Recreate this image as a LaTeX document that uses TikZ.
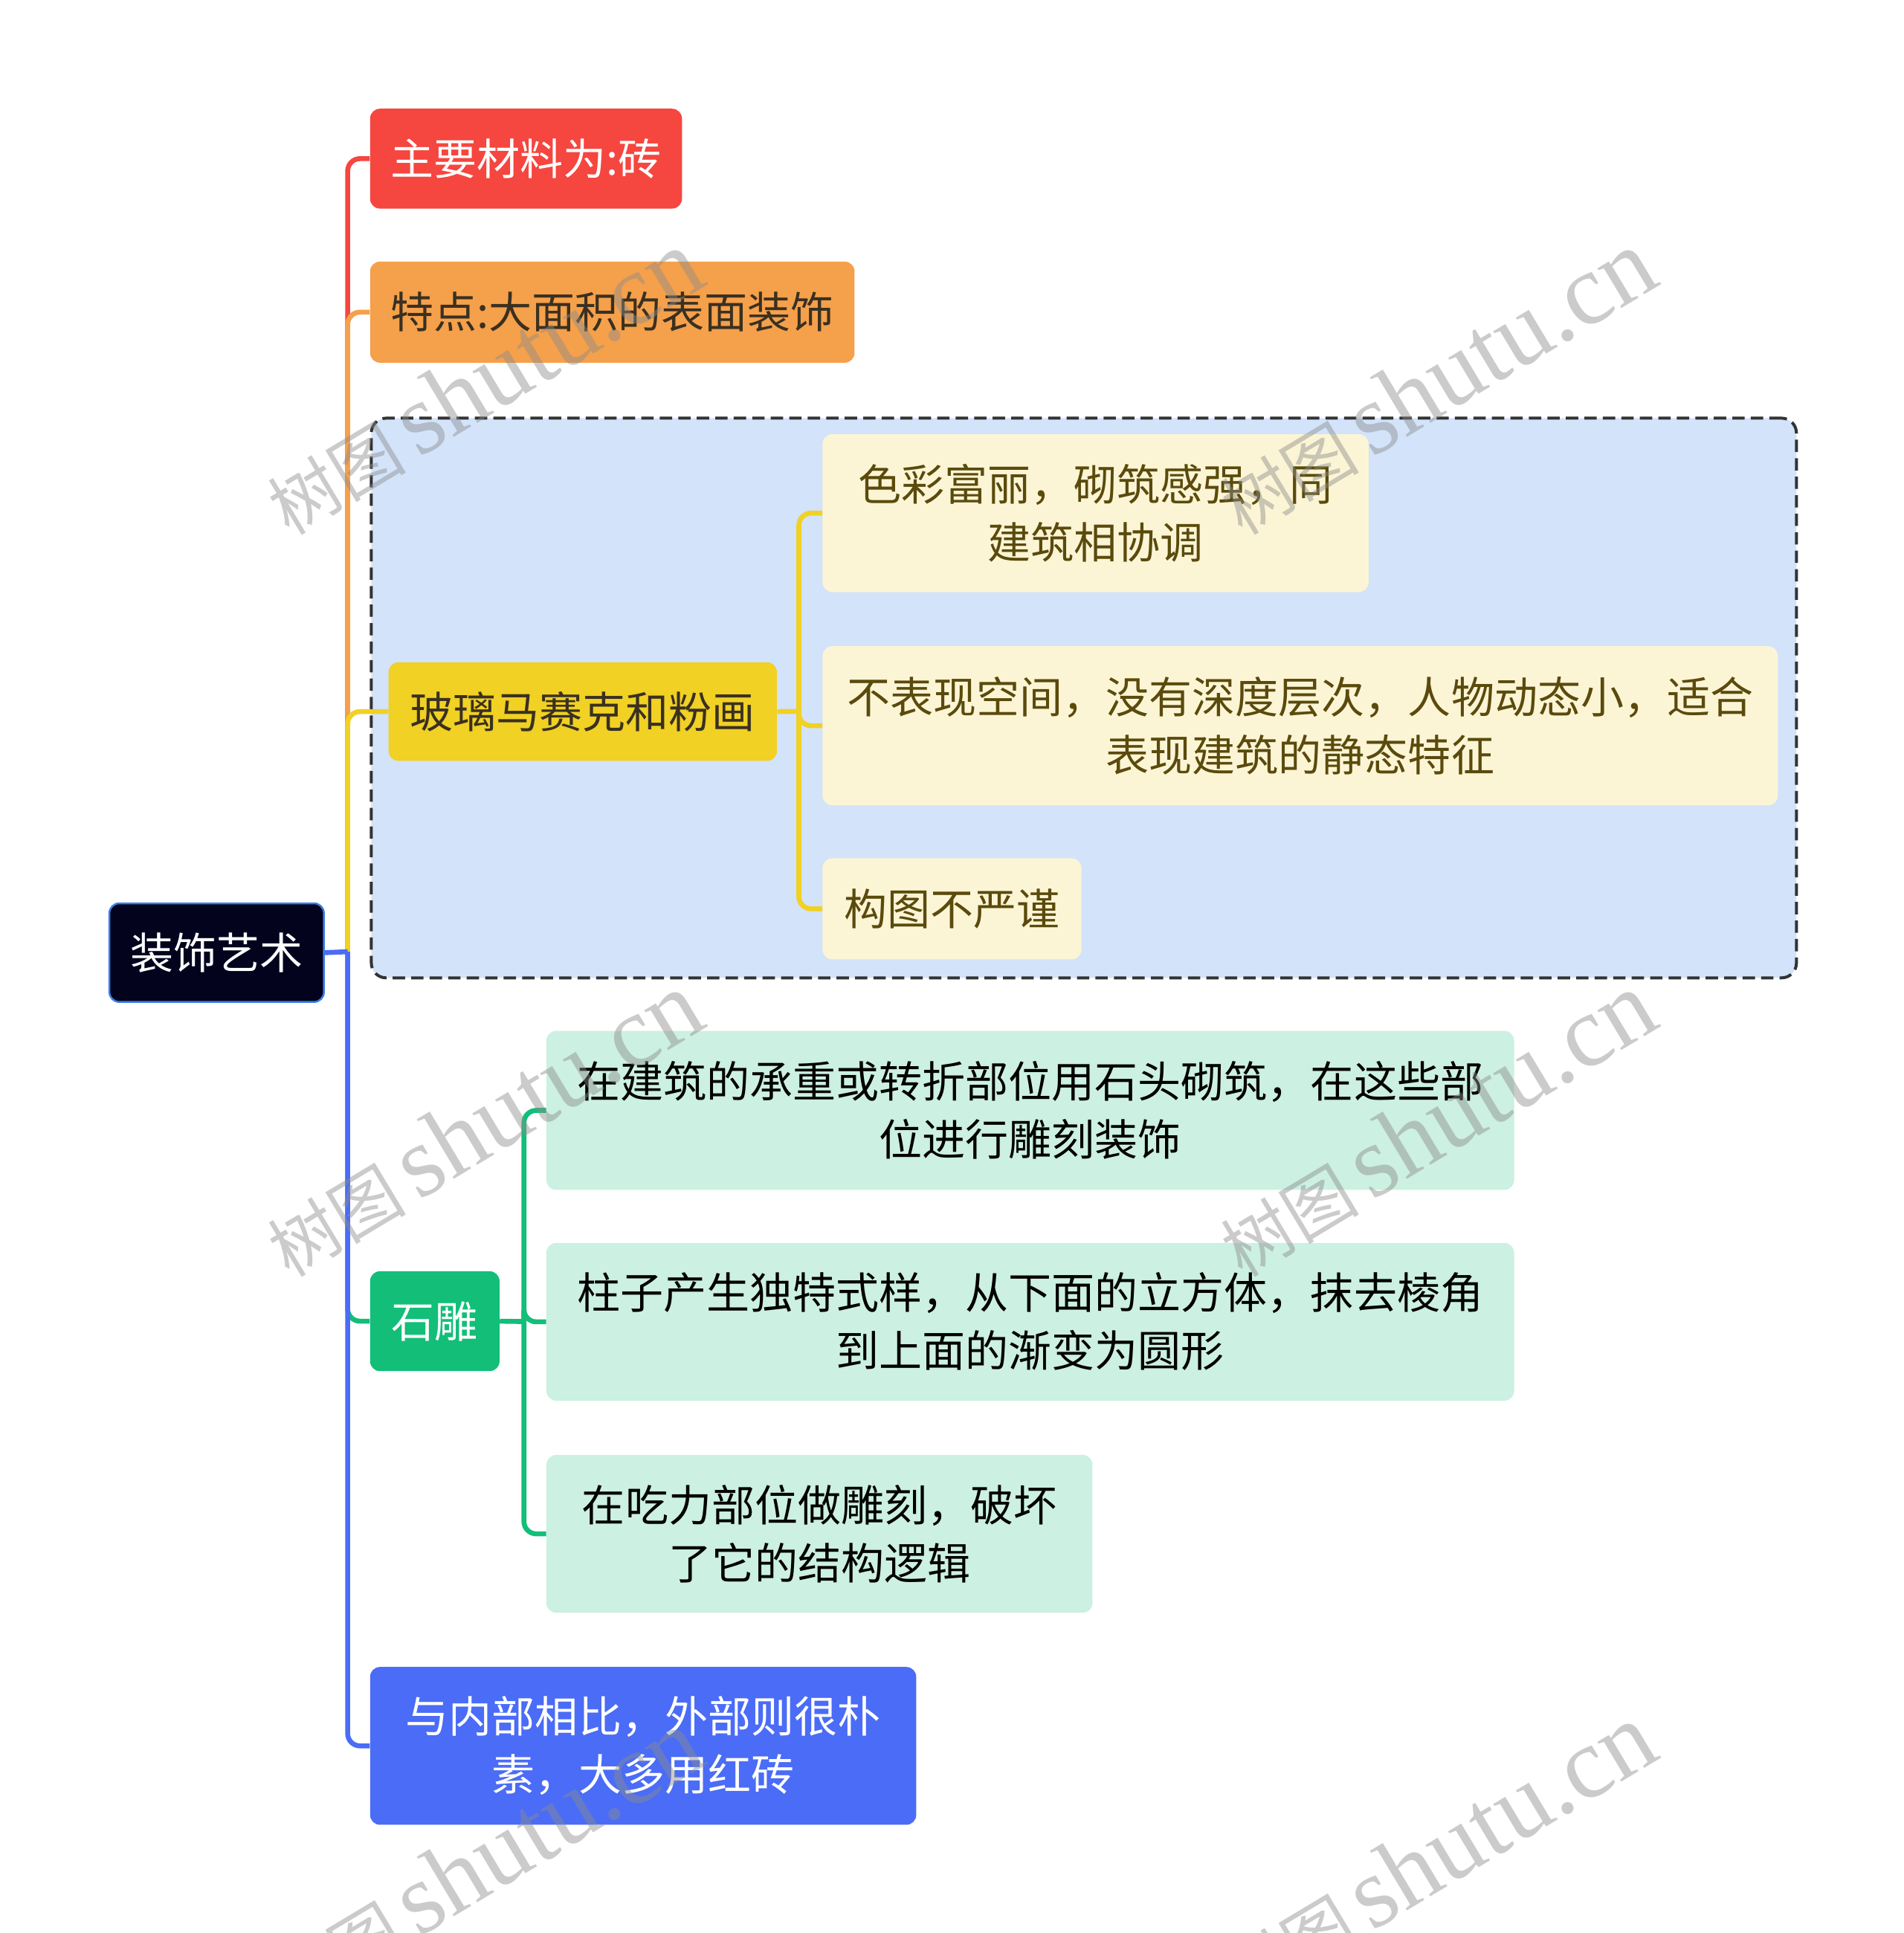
\documentclass[tikz,border=0pt]{standalone}
\usepackage{fontspec}
\setmainfont{Noto Sans CJK SC}
\newfontfamily\wmlatin{Liberation Serif}
\definecolor{cred}{HTML}{F5463F}
\definecolor{corange}{HTML}{F5A04B}
\definecolor{cyel}{HTML}{F0D124}
\definecolor{cyfill}{HTML}{FCF5D5}
\definecolor{cytext}{HTML}{5A4A0C}
\definecolor{cgroup}{HTML}{D3E3FA}
\definecolor{cgreen}{HTML}{12BE78}
\definecolor{cgfill}{HTML}{CCF0E1}
\definecolor{cblue}{HTML}{4A6CF6}
\definecolor{croot}{HTML}{03031E}
\definecolor{crootb}{HTML}{3C7EE6}
\definecolor{cdark}{HTML}{3A3020}
\begin{document}
\begin{tikzpicture}[x=1pt,y=-1pt,
  box/.style={rounded corners=8pt, inner sep=0pt, align=center, anchor=north west,
    font=\fontsize{35}{47}\selectfont},
  br/.style={line width=4pt, rounded corners=10pt},
  wm/.style={rotate=31, text=black!45, opacity=0.45, inner sep=0pt}]
\useasboundingbox[fill=white] (0,0) rectangle (1544,1568);

% group background
\node[draw=black!80, line width=2.4pt, dash pattern=on 10pt off 5pt, fill=cgroup,
  rounded corners=12pt, minimum width=1156pt, minimum height=454pt, inner sep=0pt,
  anchor=north west] (grp) at (300,338) {};

% nodes
\node[box, fill=croot, draw=crootb, line width=1.5pt, text=white, minimum width=174pt, minimum height=80pt] (root) at (88,732) {装饰艺术};
\node[box, fill=cred, text=white, minimum width=253pt, minimum height=81pt] (c1) at (300,88) {主要材料为:砖};
\node[box, fill=corange, text=cdark, minimum width=393pt, minimum height=82pt] (c2) at (300,212) {特点:大面积的表面装饰};
\node[box, fill=cyel, text=cdark, minimum width=315pt, minimum height=80pt] (c3) at (315,537) {玻璃马赛克和粉画};
\node[box, fill=cyfill, text=cytext, minimum width=443pt, minimum height=128pt] (y1) at (667,352) {色彩富丽，砌筑感强，同\\建筑相协调};
\node[box, fill=cyfill, text=cytext, minimum width=775pt, minimum height=129pt] (y2) at (667,524) {不表现空间，没有深度层次，人物动态小，适合\\表现建筑的静态特征};
\node[box, fill=cyfill, text=cytext, minimum width=210pt, minimum height=82pt] (y3) at (667,696) {构图不严谨};
\node[box, fill=cgreen, text=white, minimum width=105pt, minimum height=81pt] (c4) at (300,1031) {石雕};
\node[box, fill=cgfill, text=black, minimum width=785pt, minimum height=129pt] (g1) at (443,836) {在建筑的承重或转折部位用石头砌筑，在这些部\\位进行雕刻装饰};
\node[box, fill=cgfill, text=black, minimum width=785pt, minimum height=128pt] (g2) at (443,1008) {柱子产生独特式样，从下面的立方体，抹去棱角\\到上面的渐变为圆形};
\node[box, fill=cgfill, text=black, minimum width=443pt, minimum height=128pt] (g3) at (443,1180) {在吃力部位做雕刻，破坏\\了它的结构逻辑};
\node[box, fill=cblue, text=white, minimum width=443pt, minimum height=128pt] (c5) at (300,1352) {与内部相比，外部则很朴\\素，大多用红砖};

% main connectors
\coordinate (j) at (282,772);
\draw[br, cred] (j) |- (c1.west);
\draw[br, corange] (j) |- (c2.west);
\draw[br, cyel] (j) |- (c3.west);
\draw[br, cgreen] (j) |- (c4.west);
\draw[br, cblue] (j) |- (c5.west);
\draw[br, cblue] (root.east) -- (j);

% yellow sub connectors
\coordinate (jy) at (648,577);
\draw[br, cyel] (c3.east) -- (jy);
\draw[br, cyel] (jy) |- (y1.west);
\draw[br, cyel] (jy) |- (y2.west);
\draw[br, cyel] (jy) |- (y3.west);

% green sub connectors
\coordinate (jg) at (425,1072);
\draw[br, cgreen] (c4.east) -- (jg);
\draw[br, cgreen] (jg) |- (g1.west);
\draw[br, cgreen] (jg) |- (g2.west);
\draw[br, cgreen] (jg) |- (g3.west);

% watermarks
\foreach \p [count=\i] in {(392,310),(1165,310),(392,912),(1165,912),(392,1510),(1165,1505)}
  \node[wm] (wm\i) at \p {\fontsize{56}{60}\selectfont 树图\hspace{10pt}{\wmlatin\fontsize{82}{86}\selectfont shutu.cn}};
\end{tikzpicture}
\end{document}
